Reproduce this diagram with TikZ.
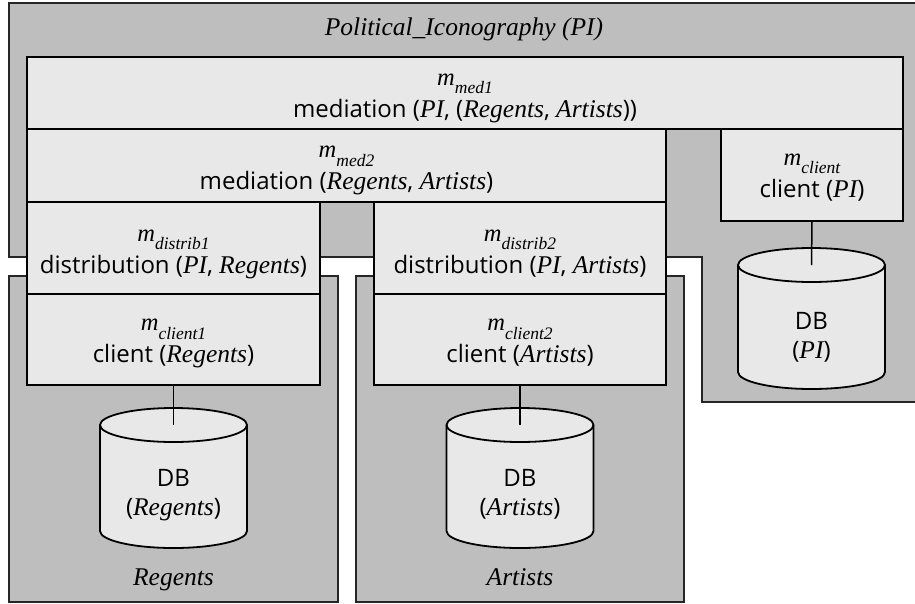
\documentclass[tikz,border=0pt]{standalone}
\usepackage{fontspec}
\setmainfont{Liberation Serif}
\setsansfont{Open Sans}
\definecolor{regiongray}{RGB}{190,190,190}
\definecolor{boxgray}{RGB}{232,232,232}
\newcommand{\sv}[1]{{\rmfamily\itshape\fontsize{25.5}{30}\selectfont #1}}
\newcommand{\msub}[1]{{\rmfamily\itshape\fontsize{24.5}{30}\selectfont m}\raisebox{-8.5pt}{\rmfamily\itshape\fontsize{17.5}{20}\selectfont #1}}
\begin{document}
\begin{tikzpicture}[x=1pt,y=-1pt,
  region/.style={fill=regiongray, draw=black!85, line width=1.3pt},
  box/.style={draw=black, fill=boxgray, line width=1.8pt, anchor=north west, inner sep=0pt, outer sep=0pt},
  lbl/.style={font=\sffamily\fontsize{24}{30}\selectfont, anchor=base, inner sep=0pt},
  cyl/.style={draw=black, fill=boxgray, line width=1.8pt},
  cylline/.style={draw=black, line width=1.8pt},
  dbframe/.style={draw=none, inner sep=0pt, outer sep=0pt, minimum width=147pt, minimum height=#1},
  link/.style={draw=black, line width=1.5pt},
  title/.style={font=\rmfamily\itshape\fontsize{25.5}{30}\selectfont, anchor=base, inner sep=0pt}
]
\fill[white] (0,0) rectangle (915,603);
\useasboundingbox (0,0) rectangle (915,603);

% regions
\fill[regiongray] (9,3) -- (915,3) -- (915,402) -- (702,402) -- (702,257) -- (9,257) -- cycle;
\draw[line width=1.3pt, draw=black!85] (915,3) -- (9,3) -- (9,257) -- (702,257) -- (702,402) -- (915,402);
\draw[region] (9,276) rectangle (338,602);
\draw[region] (356,276) rectangle (684,602);

\node[title] (piname) at (464,35) {Political\_Iconography (PI)};
\node[title] (rname) at (173.5,585) {Regents};
\node[title] (aname) at (520,585) {Artists};

% boxes
\node[box, minimum width=876pt, minimum height=72pt] (med1) at (27,57) {};
\node[box, minimum width=639pt, minimum height=73pt] (med2) at (27,129) {};
\node[box, minimum width=182pt, minimum height=92pt] (clientPI) at (721,129) {};
\node[box, minimum width=293pt, minimum height=92pt] (distrib1) at (27,202) {};
\node[box, minimum width=292pt, minimum height=92pt] (distrib2) at (374,202) {};
\node[box, minimum width=293pt, minimum height=91pt] (client1) at (27,294) {};
\node[box, minimum width=292pt, minimum height=91pt] (client2) at (374,294) {};

% box labels (two lines each)
\node[lbl] (med1m) at (465,85) {\msub{med1}};
\node[lbl] (med1t) at (465,117) {mediation (\sv{PI}, (\sv{Regents}, \sv{Artists}))};
\node[lbl] (med2m) at (346.5,157.5) {\msub{med2}};
\node[lbl] (med2t) at (346.5,189.5) {mediation (\sv{Regents}, \sv{Artists})};
\node[lbl] (clientPIm) at (812,165) {\msub{client}};
\node[lbl] (clientPIt) at (812,197) {client (\sv{PI})};
\node[lbl] (distrib1m) at (173.5,241) {\msub{distrib1}};
\node[lbl] (distrib1t) at (173.5,273) {distribution (\sv{PI}, \sv{Regents})};
\node[lbl] (distrib2m) at (520,241) {\msub{distrib2}};
\node[lbl] (distrib2t) at (520,273) {distribution (\sv{PI}, \sv{Artists})};
\node[lbl] (client1m) at (173.5,330.5) {\msub{client1}};
\node[lbl] (client1t) at (173.5,362.5) {client (\sv{Regents})};
\node[lbl] (client2m) at (520,330.5) {\msub{client2}};
\node[lbl] (client2t) at (520,362.5) {client (\sv{Artists})};

% databases
\node[dbframe=107pt] (dbPI) at (811.5,318.5) {};
\node[dbframe=106pt] (dbR) at (173.5,478) {};
\node[dbframe=106pt] (dbA) at (520,478) {};
\foreach \d in {dbPI,dbR,dbA}{
  \filldraw[cyl] (\d.north west) -- (\d.south west) arc[start angle=180, end angle=360, x radius=73.5pt, y radius=17pt] -- (\d.north east) arc[start angle=0, end angle=180, x radius=73.5pt, y radius=17pt] -- cycle;
  \draw[cylline] (\d.north west) arc[start angle=180, end angle=360, x radius=73.5pt, y radius=17pt];
}
\node[lbl] (dbPIa) at (811.5,329) {DB};
\node[lbl] (dbPIb) at (811.5,358) {(\sv{PI})};
\node[lbl] (dbRa) at (173.5,486) {DB};
\node[lbl] (dbRb) at (173.5,515) {(\sv{Regents})};
\node[lbl] (dbAa) at (520,486) {DB};
\node[lbl] (dbAb) at (520,515) {(\sv{Artists})};

% connectors
\draw[link] (clientPI.south) -- (dbPI.north);
\draw[link] (client1.south) -- (dbR.north);
\draw[link] (client2.south) -- (dbA.north);
\end{tikzpicture}
\end{document}
